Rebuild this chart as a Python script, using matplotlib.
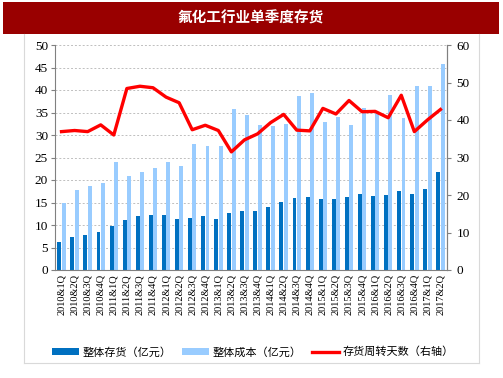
import matplotlib
matplotlib.use("Agg")
import matplotlib.pyplot as plt
import numpy as np
from matplotlib.patches import Rectangle, Patch
from matplotlib.lines import Line2D

quarters = [f"{y}&{q}Q" for y in range(2010, 2018) for q in range(1, 5)][:30]
inventory = [6.2, 7.4, 7.7, 8.4, 9.7, 11.2, 11.9, 12.2, 12.2, 11.4, 11.5, 11.9, 11.4, 12.6, 13.2,
             13.1, 14.0, 15.1, 16.1, 16.2, 15.8, 15.8, 16.2, 16.9, 16.4, 16.7, 17.6, 16.9, 18.1, 21.7]
cost = [15.0, 17.7, 18.7, 19.3, 24.0, 21.0, 21.8, 22.6, 23.9, 23.1, 27.9, 27.6, 27.6, 35.7, 34.4,
        32.3, 31.9, 32.5, 38.6, 39.4, 33.0, 33.9, 32.2, 35.9, 34.8, 38.8, 33.7, 41.0, 41.0, 45.8]
turnover_days = [36.9, 37.2, 36.9, 38.7, 36.0, 48.4, 49.0, 48.6, 46.1, 44.6, 37.4, 38.6, 37.2, 31.5, 34.7,
                 36.3, 39.3, 41.5, 37.3, 37.1, 43.1, 41.6, 45.2, 42.2, 42.3, 40.6, 46.6, 36.9, 40.0, 42.8]
legend_labels = ["整体存货（亿元）", "整体成本（亿元）", "存货周转天数（右轴）"]
title = "氟化工行业单季度存货"

cjk = ["Noto Sans CJK SC", "DejaVu Sans"]
serif = ["Liberation Serif", "DejaVu Serif"]

fig = plt.figure(figsize=(5.03, 3.78), dpi=100)
fig.patch.set_facecolor("white")

# title bar
fig.patches.append(Rectangle((3/503, 1-34/378), 496/503, 32/378, transform=fig.transFigure,
                             facecolor="#990000", edgecolor="none", zorder=0))
fig.text(251/503, 1-18/378, title, color="white", fontsize=10.5, fontweight="bold",
         family=cjk, ha="center", va="center")
# panel border
fig.add_artist(Line2D([24/503, 24/503], [1-363/378, 1-34/378], transform=fig.transFigure,
                      color="#d9d9d9", lw=0.8))
fig.add_artist(Line2D([479/503, 479/503], [1-363/378, 1-34/378], transform=fig.transFigure,
                      color="#d9d9d9", lw=0.8))
fig.add_artist(Line2D([24/503, 479/503], [1-363/378, 1-363/378], transform=fig.transFigure,
                      color="#d9d9d9", lw=0.8))

ax = fig.add_axes([55/503, 1-270/378, 392/503, 225/378])
x = np.arange(len(quarters))
w = 0.3
ax.bar(x - 0.17, inventory, width=w, color="#0070C0", zorder=2)
ax.bar(x + 0.17, cost, width=w, color="#99CCFF", zorder=2)
ax.set_xlim(-0.5, len(quarters) - 0.5)
ax.set_ylim(0, 50)
ax.set_yticks(range(0, 51, 5))
ax.yaxis.grid(True, linestyle=(0, (2, 2)), color="#bfbfbf", lw=0.7, zorder=0)
ax.set_axisbelow(True)
ax.set_xticks(x)
ax.set_xticklabels(quarters, rotation=90, fontsize=7.5, family=serif)
for lab in ax.get_yticklabels():
    lab.set_family(serif)
    lab.set_fontsize(9.5)
ax.tick_params(axis="x", length=0, pad=3)
ax.tick_params(axis="y", length=3, color="#808080", pad=2)
for s in ["top"]:
    ax.spines[s].set_visible(False)
for s in ["left", "right", "bottom"]:
    ax.spines[s].set_color("#808080")
    ax.spines[s].set_linewidth(0.8)

ax2 = ax.twinx()
ax2.plot(x, turnover_days, color="#FF0000", lw=2.4, zorder=3)
ax2.set_ylim(0, 60)
ax2.set_yticks(range(0, 61, 10))
for lab in ax2.get_yticklabels():
    lab.set_family(serif)
    lab.set_fontsize(9.5)
ax2.tick_params(axis="y", length=3, color="#808080", pad=4)
ax2.spines["top"].set_visible(False)
ax2.spines["right"].set_color("#808080")
ax2.spines["left"].set_visible(False)
ax2.spines["bottom"].set_visible(False)

handles = [Patch(facecolor="#0070C0"), Patch(facecolor="#99CCFF"),
           Line2D([], [], color="#FF0000", lw=2.4)]
fig.legend(handles, legend_labels, loc="center", bbox_to_anchor=(253/503, 1-352/378),
           ncol=3, frameon=False, prop={"family": cjk, "size": 8}, handlelength=2.4,
           handleheight=0.5, columnspacing=1.0, handletextpad=0.3)

fig.savefig("out.png", dpi=100)
